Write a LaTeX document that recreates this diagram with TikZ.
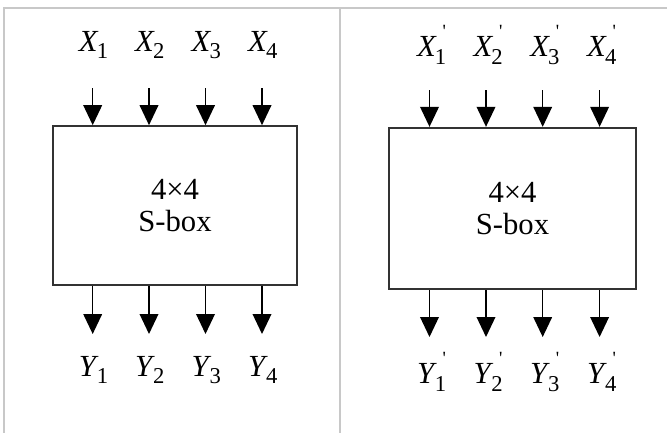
\documentclass[tikz,border=0pt]{standalone}
\usepackage{fontspec}
\setmainfont{Liberation Serif}[Ligatures=TeX]
\usetikzlibrary{arrows.meta}
\definecolor{framegray}{RGB}{200,200,200}
\definecolor{boxline}{RGB}{50,50,50}
\newcommand{\vlab}[3]{\rmfamily\textit{#1}\kern-0.06em\raisebox{-0.25em}{\fontsize{17}{17}\selectfont #2}\kern-0.12em\raisebox{0.62em}{\fontsize{14}{14}\selectfont #3}}
\tikzset{
  frame/.style={draw=framegray, line width=0.9pt},
  sbox/.style={draw=boxline, line width=1.5pt, inner sep=0pt, align=center, font=\rmfamily\fontsize{23}{26}\selectfont},
  lab/.style={inner sep=0pt, font=\rmfamily\fontsize{23}{26}\selectfont},
  arr/.style={line width=1.1pt, -{Triangle[length=15pt,width=14pt]}}
}
\begin{document}
\begin{tikzpicture}[x=0.75pt,y=-0.75pt]
\useasboundingbox (0,0) rectangle (667,433);
\fill[white] (0,0) rectangle (667,433);
% frame lines
\draw[frame] (3,8) -- (667,8);
\draw[frame] (4,8) -- (4,433);
\draw[frame] (340,8) -- (340,433);
% boxes
\node[sbox, minimum width=183pt, minimum height=119pt] (L) at (175,205.5) {4×4\\[-2pt]S-box};
\node[sbox, minimum width=185pt, minimum height=121pt] (R) at (512.5,208.5) {4×4\\[-2pt]S-box};
% left side
\foreach \i/\xx in {1/92.7,2/149,3/205.5,4/262}{
  \node[lab] (x\i) at (\xx-1,45) {\vlab{X}{\i}{}};
  \coordinate (xa\i) at (\xx,88);
  \draw[arr] (xa\i) -- (xa\i |- L.north);
  \coordinate (ya\i) at (\xx,334);
  \draw[arr] (xa\i |- L.south) -- (ya\i);
  \node[lab] (y\i) at (\xx-1,370) {\vlab{Y}{\i}{}};
}
% right side
\foreach \i/\xx in {1/429.5,2/486,3/542.7,4/599.6}{
  \node[lab] (xp\i) at (\xx+2,45) {\vlab{X}{\i}{\textquotesingle}};
  \coordinate (xpa\i) at (\xx,90);
  \draw[arr] (xpa\i) -- (xpa\i |- R.north);
  \coordinate (ypa\i) at (\xx,337);
  \draw[arr] (xpa\i |- R.south) -- (ypa\i);
  \node[lab] (yp\i) at (\xx+2,372) {\vlab{Y}{\i}{\textquotesingle}};
}
\end{tikzpicture}
\end{document}
